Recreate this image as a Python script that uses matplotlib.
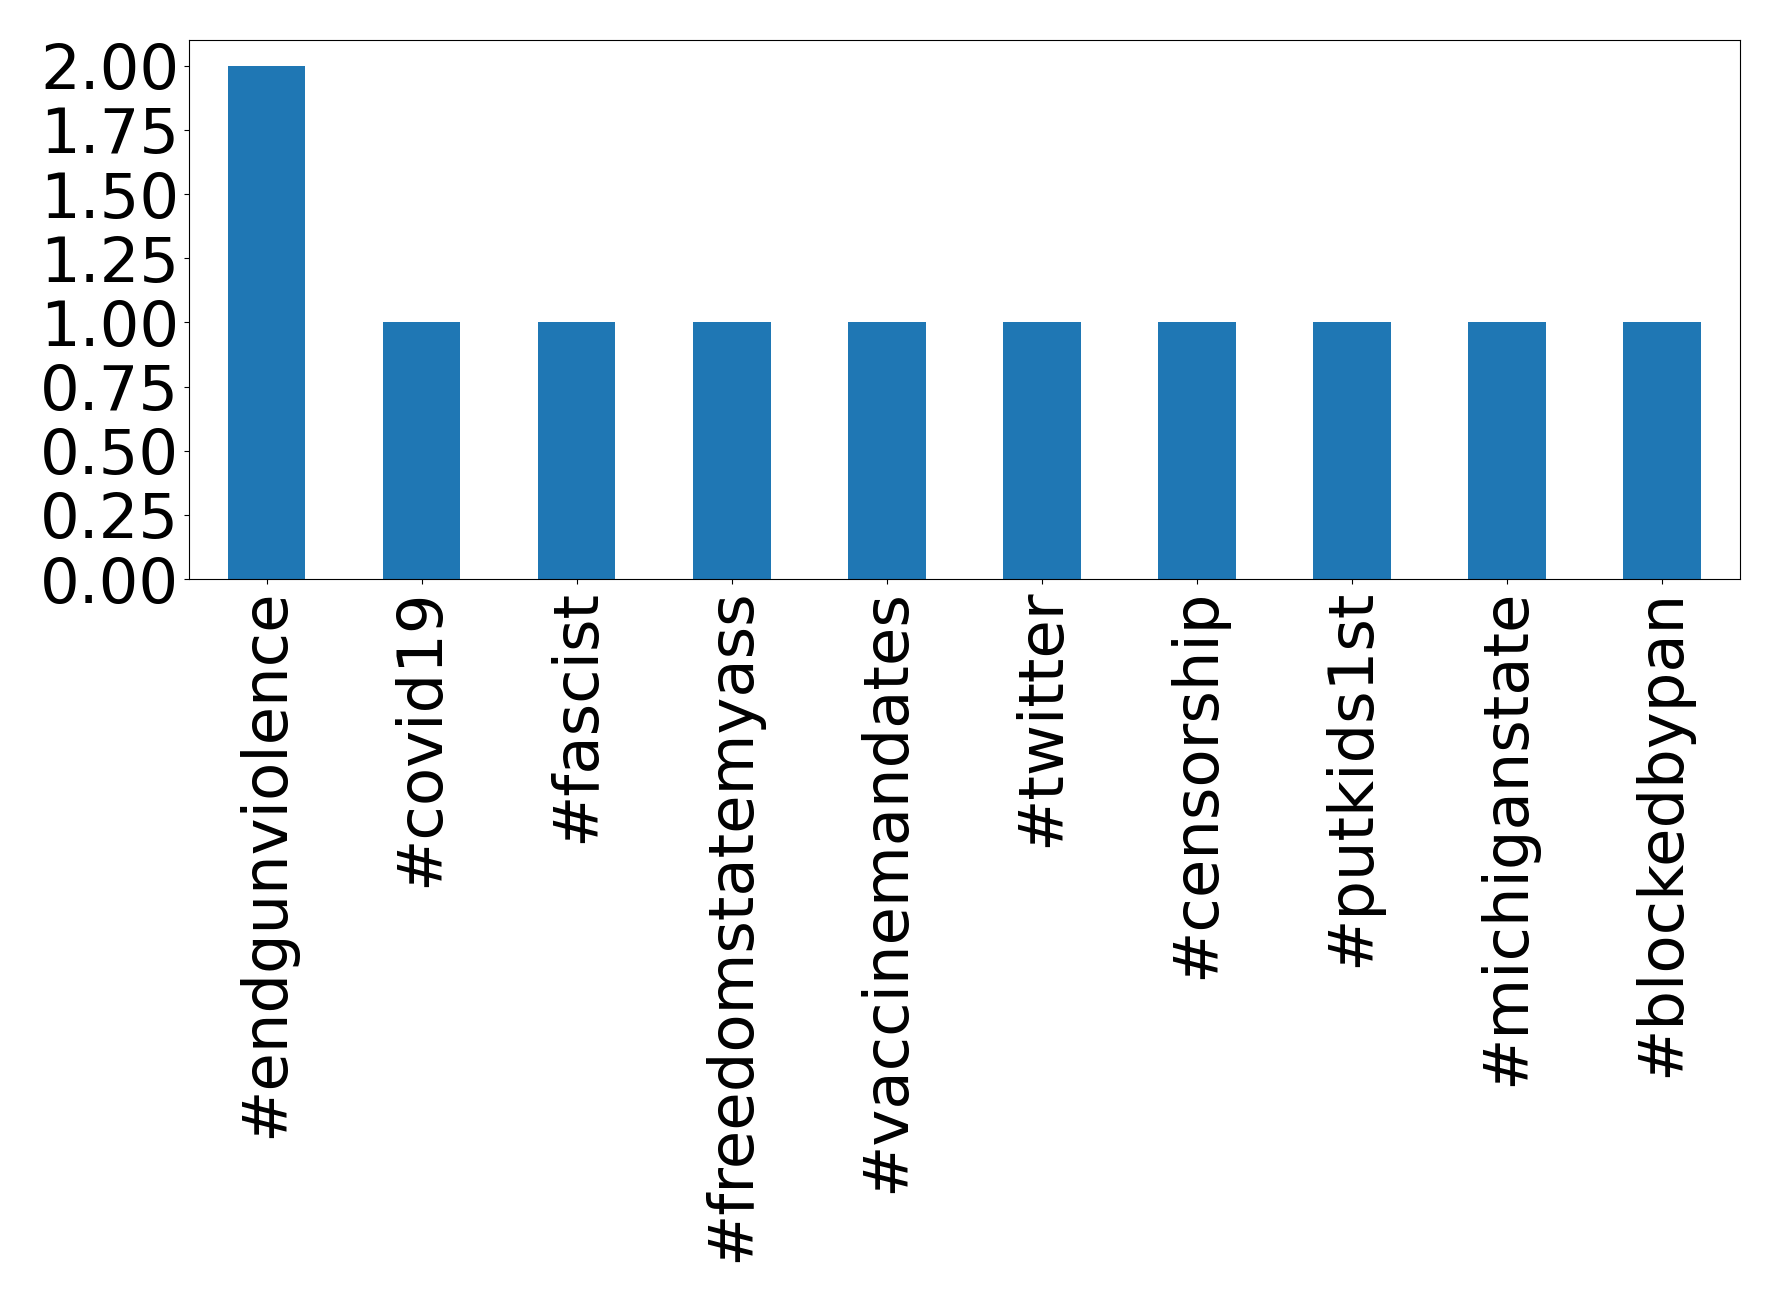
import matplotlib
matplotlib.use("Agg")
import matplotlib.pyplot as plt
import numpy as np

hashtags = ['#endgunviolence', '#covid19', '#fascist', '#freedomstatemyass',
            '#vaccinemandates', '#twitter', '#censorship', '#putkids1st',
            '#michiganstate', '#blockedbypan']
counts = [2, 1, 1, 1, 1, 1, 1, 1, 1, 1]

fig = plt.figure(figsize=(17.78, 13.02), dpi=100)
ax = fig.add_axes([0.1063, 0.5552, 0.8722, 0.4141])

x = np.arange(len(hashtags))
ax.bar(x, counts, width=0.5, color='#1f77b4')
ax.set_xlim(-0.5, len(hashtags) - 0.5)
ax.set_ylim(0, 2.1)
ax.set_yticks(np.arange(0, 2.01, 0.25))
ax.set_yticklabels(['%.2f' % v for v in np.arange(0, 2.01, 0.25)])
ax.set_xticks(x)
ax.set_xticklabels(hashtags, rotation=90)
ax.tick_params(axis='both', labelsize=45)

fig.savefig("out.png", dpi=100, facecolor='w')
